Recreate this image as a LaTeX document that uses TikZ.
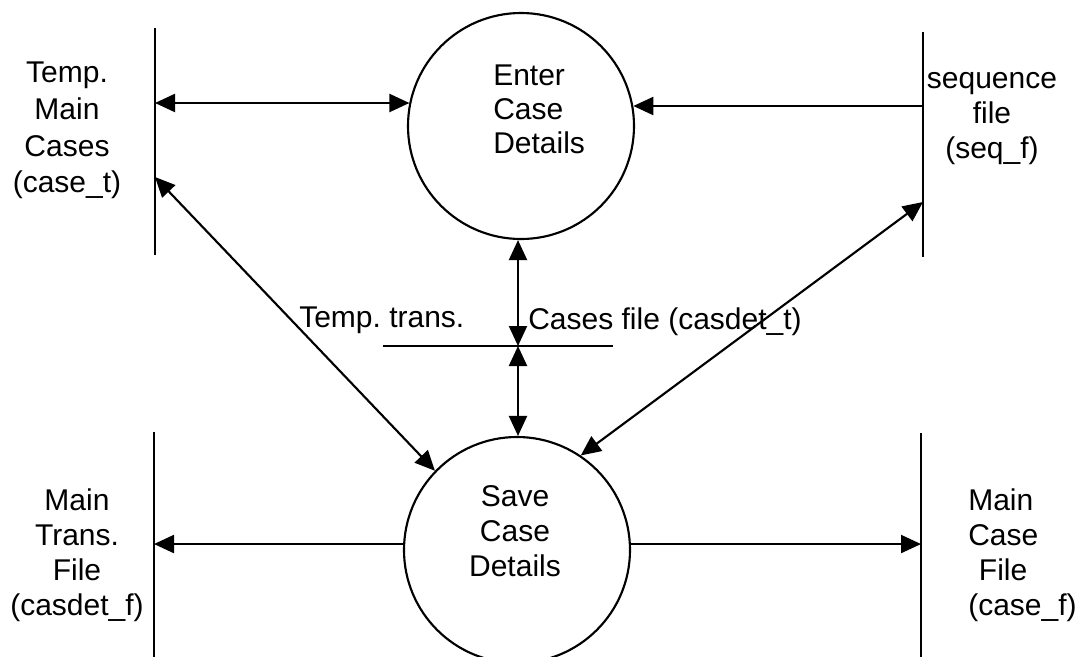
\documentclass[tikz,border=0pt]{standalone}
\usepackage{fontspec}
\setmainfont{Liberation Sans}
\usetikzlibrary{arrows.meta}
\frenchspacing
\begin{document}
\begin{tikzpicture}[x=0.75pt,y=-0.75pt,
  >={Triangle[length=15pt,width=13.5pt]},
  wire/.style={line width=1.6pt},
  flow/.style={line width=1.6pt},
  process/.style={circle,draw,line width=1.6pt,minimum size=169.5pt,inner sep=0pt},
  label/.style={inner sep=0pt,font=\fontsize{22.5pt}{26.25pt}\selectfont},
]
\useasboundingbox (0,0) rectangle (1083,657);

% processes
\node[process] (enter) at (521,126) {};
\node[process] (save)  at (517,550) {};
\node[label,anchor=north west,align=left,font=\fontsize{22.5pt}{25.5pt}\selectfont]
  (enterT) at (493,65) {Enter\\Case\\Details};
\node[label,anchor=north,align=center] (saveT) at (515,485) {Save\\Case\\Details};

% data stores drawn as open lines
\coordinate (tmcTop) at (155,28);  \coordinate (tmcBot) at (155,255);
\coordinate (seqTop) at (923,32);  \coordinate (seqBot) at (923,257);
\coordinate (mtfTop) at (154,432); \coordinate (mtfBot) at (154,657);
\coordinate (mcfTop) at (921,433); \coordinate (mcfBot) at (921,657);
\coordinate (ttL) at (383,346);    \coordinate (ttR) at (613,346);
\draw[wire] (tmcTop) -- (tmcBot);
\draw[wire] (seqTop) -- (seqBot);
\draw[wire] (mtfTop) -- (mtfBot);
\draw[wire] (mcfTop) -- (mcfBot);
\draw[wire] (ttL) -- (ttR);

% store labels
\node[label,anchor=north,align=center,font=\fontsize{22.5pt}{27.5pt}\selectfont]
  (tmcT) at (67,62) {Temp.\\Main\\Cases\\(case\_t)};
\node[label,anchor=north,align=center,font=\fontsize{22.5pt}{26.25pt}\selectfont]
  (seqT) at (992,72) {sequence\\file\\(seq\_f)};
\node[label,anchor=north,align=center] (mtfT) at (77,488) {Main\\Trans.\\File\\(casdet\_f)};
\node[label,anchor=north west,align=left] (mcfT) at (968,488)
  {Main\\Case\\\hspace*{8pt}File\\(case\_f)};
\node[label,anchor=north west] (ttT1) at (299,307) {Temp. trans.};
\node[label,anchor=north west] (ttT2) at (528,307) {Cases file (casdet\_t)};

% connection points on the stores
\coordinate (tmcIO) at (155,103);
\coordinate (tmcD)  at (155,177);
\coordinate (seqIO) at (923,106);
\coordinate (seqD)  at (923,202);
\coordinate (mtfIO) at (154,544);
\coordinate (mcfIO) at (921,544);
\coordinate (ttMid) at (518,346);

% data flows
\draw[flow,<->] (tmcIO) -- (tmcIO -| enter.168);
\draw[flow,->]  (seqIO) -- (seqIO -| enter.10);
\draw[flow,<->] (ttMid) -- (ttMid |- enter.south);
\draw[flow,<->] (ttMid) -- (ttMid |- save.north);
\draw[flow,<->] (tmcD) -- (save.136);
\draw[flow,<->] (seqD) -- (save.56);
\draw[flow,->]  (save.177) -- (save.177 -| mtfIO);
\draw[flow,->]  (save.3) -- (save.3 -| mcfIO);
\end{tikzpicture}
\end{document}
